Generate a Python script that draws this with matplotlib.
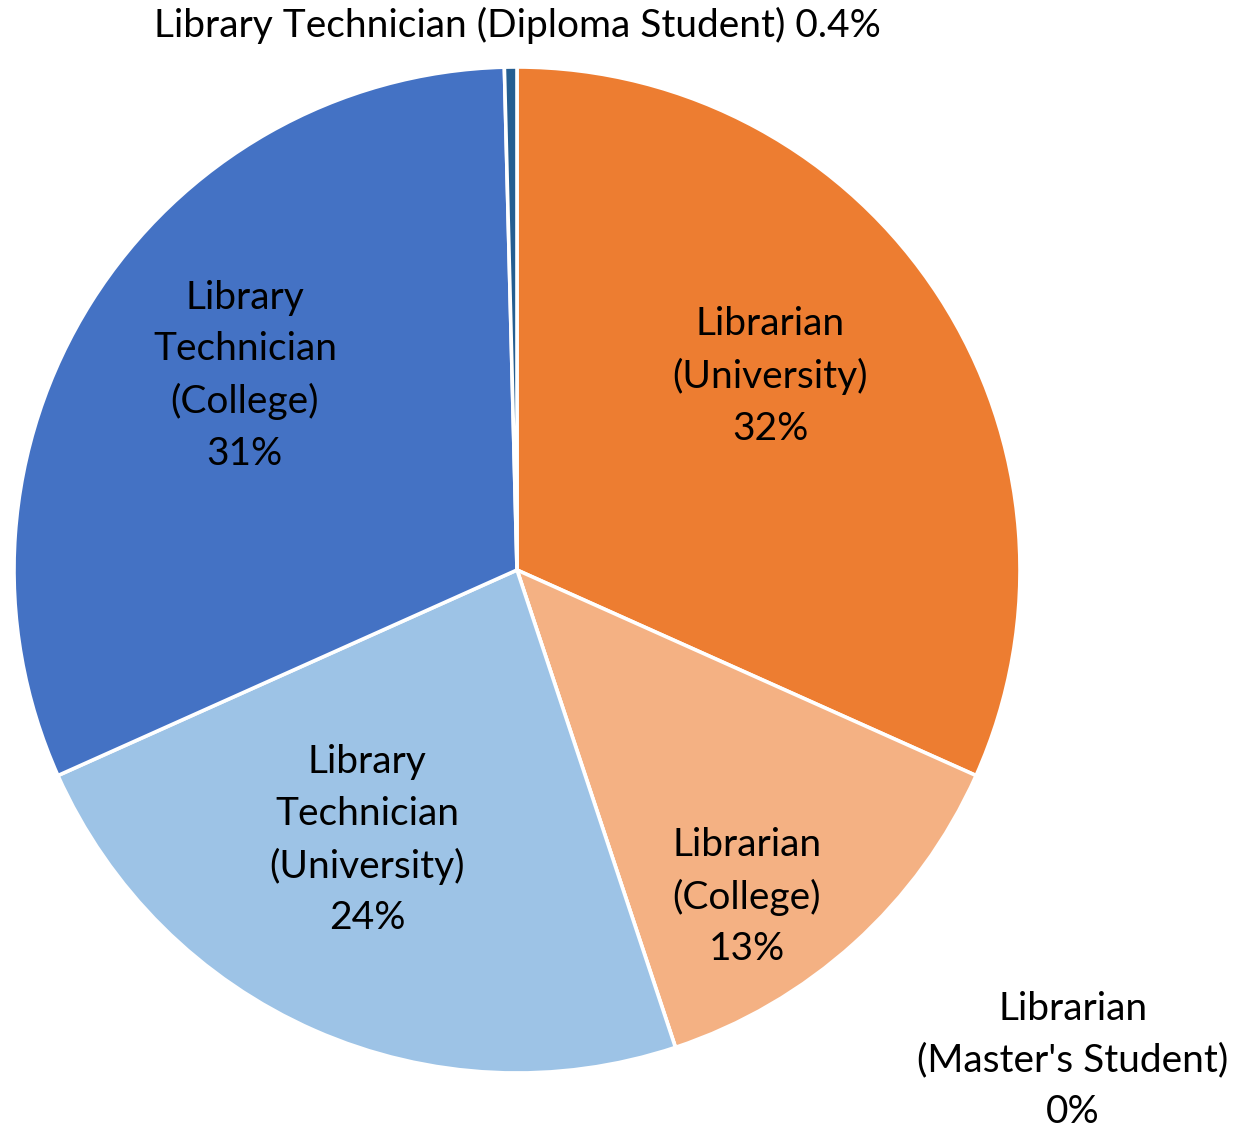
import matplotlib
matplotlib.use('Agg')
import matplotlib.pyplot as plt

plt.rcParams['font.family'] = ['Lato', 'DejaVu Sans']

# data, clockwise from 12 o'clock
categories = ['Librarian\n(University)', 'Librarian\n(College)',
              "Librarian\n(Master's Student)", 'Library\nTechnician\n(University)',
              'Library\nTechnician\n(College)', 'Library Technician (Diploma Student)']
shares = [31.7, 13.2, 0.0, 23.4, 31.3, 0.4]
pct_labels = ['32%', '13%', '0%', '24%', '31%', '0.4%']
colors = ['#ED7D31', '#F4B183', '#C55A11', '#9DC3E6', '#4472C4', '#255E91']

# label anchor points in pie-radius units
label_xy = [(0.503, 0.385), (0.457, -0.650), (1.105, -0.975),
            (-0.298, -0.537), (-0.541, 0.386), (0.0, 1.083)]

W, H = 1243, 1128
cx, cy, R = 517, 570, 503

fig = plt.figure(figsize=(W / 100, H / 100), dpi=100)
ax = fig.add_axes([(cx - R) / W, (H - cy - R) / H, 2 * R / W, 2 * R / H])

ax.pie(shares, colors=colors, startangle=90, counterclock=False, radius=1,
       wedgeprops={'edgecolor': 'white', 'linewidth': 2.6})
ax.set_aspect('auto')
ax.set_xlim(-1, 1)
ax.set_ylim(-1, 1)
ax.axis('off')

for name, pct, (x, y) in zip(categories, pct_labels, label_xy):
    if '\n' in name:
        txt = name + '\n' + pct
    else:
        txt = name + ' ' + pct
    ax.text(x, y, txt, ha='center', va='center', fontsize=28,
            linespacing=1.53, color='black', clip_on=False)

fig.savefig('out.png', dpi=100)
